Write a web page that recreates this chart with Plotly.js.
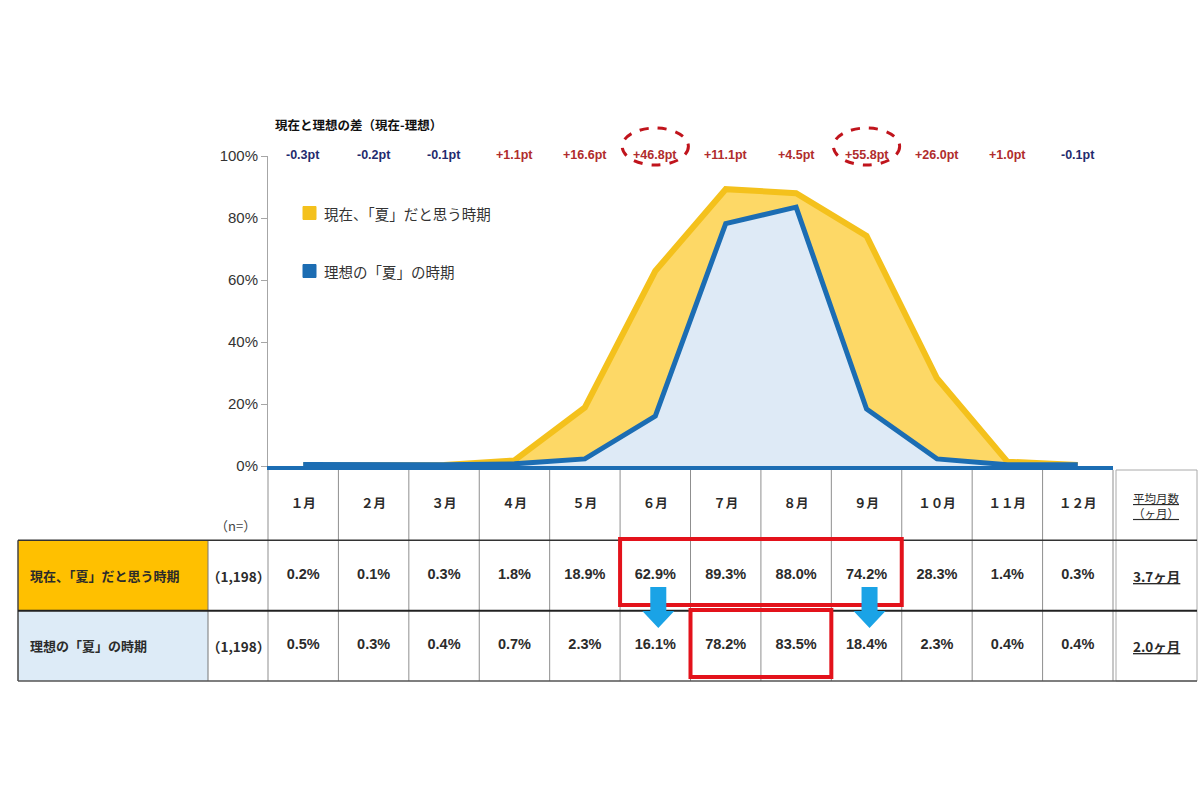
<!DOCTYPE html>
<html>
<head>
<meta charset="utf-8">
<script src="https://cdn.plot.ly/plotly-3.0.1.min.js"></script>
<style>
  html, body { margin: 0; padding: 0; background: #fff; }
  #chart { width: 1200px; height: 800px; }
</style>
</head>
<body>
<div id="chart"></div>
<script>
/* ── Data ── */
var MONTHS       = [1, 2, 3, 4, 5, 6, 7, 8, 9, 10, 11, 12];
var MONTH_LABELS = ['１月', '２月', '３月', '４月', '５月', '６月', '７月', '８月', '９月', '１０月', '１１月', '１２月'];
var CURRENT      = [0.2, 0.1, 0.3, 1.8, 18.9, 62.9, 89.3, 88.0, 74.2, 28.3, 1.4, 0.3];
var IDEAL        = [0.5, 0.3, 0.4, 0.7, 2.3, 16.1, 78.2, 83.5, 18.4, 2.3, 0.4, 0.4];
var GAP_PT       = [-0.3, -0.2, -0.1, 1.1, 16.6, 46.8, 11.1, 4.5, 55.8, 26.0, 1.0, -0.1];
var SERIES_NAMES = ['現在、「夏」だと思う時期', '理想の「夏」の時期'];
var N_COUNTS     = ['1,198', '1,198'];
var AVG_MONTHS   = [3.7, 2.0];
var Y_TICKS      = [0, 20, 40, 60, 80, 100];
var CIRCLED      = [6, 9];        // gap labels ringed in red
var BOX_CURRENT  = [6, 9];        // first / last month boxed in row 1
var BOX_IDEAL    = [7, 8];        // first / last month boxed in row 2
var ARROWS       = [6, 9];

/* ── Colours / fonts ── */
var C = {
  curLine: '#F4C11C', curFill: '#FDD866',
  idlLine: '#1C6DB3', idlFill: '#DEEAF6',
  rowCur:  '#FFC000', rowIdl:  '#DDEBF7',
  red:     '#E3121B', arrow:   '#1AA3E6',
  neg:     '#1F2B6E', pos:     '#B02C2C',
  text:    '#2b2b2b', grid:    '#8f8f8f',
};
var JP  = '"Noto Sans CJK JP", "Noto Sans", sans-serif';
var NUM = '"Liberation Sans", Arial, sans-serif';

/* ── Geometry (pixels of the 1200x800 page) ── */
var W = 1200, H = 800;
var PL = 268, PR = 1113;          // plot left / right
var P0 = 466, P100 = 156;         // y of 0% and 100%
var TT = 470, TB = 681;           // table top / bottom
var colW = (PR - PL) / 12;
var rowH = (TB - TT) / 3;

function px2x(px) { return 0.5 + (px - PL) / colW; }
function py2row(py) { return (py - TT) / rowH; }
function fx(px) { return px / W; }
function fy(py) { return 1 - py / H; }
function pct(v) { return v.toFixed(1) + '%'; }
function ul(s) { return '<span style="text-decoration:underline">' + s + '</span>'; }

/* ── Traces ── */
var traces = [
  {
    x: MONTHS, y: CURRENT, name: SERIES_NAMES[0],
    mode: 'lines', fill: 'tozeroy', fillcolor: C.curFill,
    line: { color: C.curLine, width: 6 },
    hovertemplate: '%{y:.1f}%<extra>' + SERIES_NAMES[0] + '</extra>',
  },
  {
    x: MONTHS, y: IDEAL, name: SERIES_NAMES[1],
    mode: 'lines', fill: 'tozeroy', fillcolor: C.idlFill,
    line: { color: C.idlLine, width: 5 },
    hovertemplate: '%{y:.1f}%<extra>' + SERIES_NAMES[1] + '</extra>',
  },
  /* table header + rows */
  {
    x: MONTHS, y: MONTHS.map(function () { return 0.5; }),
    xaxis: 'x2', yaxis: 'y2', mode: 'text', cliponaxis: false, hoverinfo: 'skip',
    text: MONTH_LABELS,
    textfont: { family: JP, size: 12.5, weight: 'bold', color: C.text },
  },
  {
    x: MONTHS, y: MONTHS.map(function () { return 1.5; }),
    xaxis: 'x2', yaxis: 'y2', mode: 'text', cliponaxis: false, hoverinfo: 'skip',
    text: CURRENT.map(pct),
    textfont: { family: NUM, size: 14.5, weight: 'bold', color: C.text },
  },
  {
    x: MONTHS, y: MONTHS.map(function () { return 2.5; }),
    xaxis: 'x2', yaxis: 'y2', mode: 'text', cliponaxis: false, hoverinfo: 'skip',
    text: IDEAL.map(pct),
    textfont: { family: NUM, size: 14.5, weight: 'bold', color: C.text },
  },
];

/* ── Shapes ── */
var shapes = [];
var LX0 = px2x(18), LX1 = px2x(208), RX0 = px2x(1116), RX1 = px2x(1197);

/* label cells */
[C.rowCur, C.rowIdl].forEach(function (col, i) {
  shapes.push({ type: 'rect', xref: 'x2', yref: 'y2', layer: 'below',
    x0: LX0, x1: LX1, y0: i + 1, y1: i + 2, fillcolor: col, line: { width: 0 } });
});

/* month column borders */
for (var i = 0; i <= 12; i++) {
  shapes.push({ type: 'line', xref: 'x2', yref: 'y2',
    x0: i + 0.5, x1: i + 0.5, y0: 0, y1: 3, line: { color: C.grid, width: 1 } });
}
shapes.push({ type: 'line', xref: 'x2', yref: 'y2', x0: LX1, x1: LX1, y0: 1, y1: 3,
  line: { color: '#777', width: 1 } });
shapes.push({ type: 'line', xref: 'x2', yref: 'y2', x0: LX0, x1: LX0, y0: 1, y1: 3,
  line: { color: '#444', width: 1.5 } });
shapes.push({ type: 'rect', xref: 'x2', yref: 'y2', x0: RX0, x1: RX1, y0: 0, y1: 3,
  line: { color: '#aaa', width: 1 } });

/* row borders */
[[1, '#333', 1.5], [2, '#222', 2], [3, '#555', 1.5]].forEach(function (r) {
  shapes.push({ type: 'line', xref: 'x2', yref: 'y2', x0: LX0, x1: RX1, y0: r[0], y1: r[0],
    line: { color: r[1], width: r[2] } });
});

/* red highlight boxes */
shapes.push({ type: 'rect', xref: 'x2', yref: 'y2',
  x0: BOX_CURRENT[0] - 0.5, x1: BOX_CURRENT[1] + 0.5, y0: py2row(539), y1: py2row(605),
  line: { color: C.red, width: 4 } });
shapes.push({ type: 'rect', xref: 'x2', yref: 'y2',
  x0: BOX_IDEAL[0] - 0.5, x1: BOX_IDEAL[1] + 0.5, y0: py2row(610), y1: py2row(677),
  line: { color: C.red, width: 4 } });

/* blue down arrows */
ARROWS.forEach(function (m) {
  var sw = 8 / colW, hw = 16 / colW, cx = m + 3 / colW;
  var y0 = py2row(587), yb = py2row(611), yt = py2row(628);
  shapes.push({ type: 'path', xref: 'x2', yref: 'y2', fillcolor: C.arrow, line: { width: 0 },
    path: 'M' + (cx - sw) + ',' + y0 + ' L' + (cx + sw) + ',' + y0 + ' L' + (cx + sw) + ',' + yb +
          ' L' + (cx + hw) + ',' + yb + ' L' + cx + ',' + yt + ' L' + (cx - hw) + ',' + yb +
          ' L' + (cx - sw) + ',' + yb + ' Z' });
});

/* dashed ellipses around biggest gaps */
CIRCLED.forEach(function (m) {
  shapes.push({ type: 'circle', xref: 'x', yref: 'paper',
    x0: m - 0.47, x1: m + 0.47, y0: fy(165), y1: fy(128),
    line: { color: '#C0141C', width: 3, dash: 'dash' } });
});

/* legend squares */
[[213, C.curLine], [271, C.idlLine]].forEach(function (l) {
  shapes.push({ type: 'rect', xref: 'paper', yref: 'paper',
    x0: fx(303), x1: fx(316), y0: fy(l[0] + 6.5), y1: fy(l[0] - 6.5),
    fillcolor: l[1], line: { color: l[1], width: 1 } });
});

/* ── Annotations ── */
var ann = [];
ann.push({ xref: 'paper', yref: 'paper', x: fx(273), y: fy(124), xanchor: 'left', yanchor: 'middle',
  showarrow: false, text: '<b>現在と理想の差（現在-理想）</b>',
  font: { family: JP, size: 12.5, color: '#111' } });

/* gap labels above the plot */
GAP_PT.forEach(function (v, i) {
  ann.push({ xref: 'x', yref: 'paper', x: MONTHS[i], y: fy(146), showarrow: false,
    text: '<b>' + (v > 0 ? '+' : '') + v.toFixed(1) + 'pt</b>',
    font: { family: NUM, size: 12.5, color: v < 0 ? C.neg : C.pos } });
});

[[213, SERIES_NAMES[0]], [271, SERIES_NAMES[1]]].forEach(function (l) {
  ann.push({ xref: 'paper', yref: 'paper', x: fx(322), y: fy(l[0]), xanchor: 'left', yanchor: 'middle',
    showarrow: false, text: l[1], font: { family: JP, size: 14.5, color: '#333' } });
});

ann.push({ xref: 'x2', yref: 'y2', x: px2x(235), y: py2row(525), showarrow: false,
  text: '（n=）', font: { family: JP, size: 13, color: '#444' } });

SERIES_NAMES.forEach(function (name, r) {
  ann.push({ xref: 'x2', yref: 'y2', x: px2x(28), y: r + 1.5, xanchor: 'left', showarrow: false,
    text: '<b>' + name + '</b>', font: { family: JP, size: 13, color: C.text } });
  ann.push({ xref: 'x2', yref: 'y2', x: px2x(238), y: r + 1.5, showarrow: false,
    text: '（' + N_COUNTS[r] + '）', font: { family: JP, size: 13.5, weight: 'bold', color: C.text } });
  ann.push({ xref: 'x2', yref: 'y2', x: px2x(1156), y: r + 1.5, showarrow: false,
    text: '<b>' + ul(AVG_MONTHS[r].toFixed(1) + 'ヶ月') + '</b>',
    font: { family: JP, size: 13.5, color: C.text } });
});

ann.push({ xref: 'x2', yref: 'y2', x: px2x(1156), y: 0.5, showarrow: false,
  text: ul('平均月数') + '<br>' + ul('（ヶ月）'),
  font: { family: JP, size: 11.5, color: C.text } });

/* ── Layout ── */
var layout = {
  width: W, height: H,
  margin: { l: 0, r: 0, t: 0, b: 0 },
  paper_bgcolor: '#fff', plot_bgcolor: 'rgba(0,0,0,0)',
  showlegend: false,
  font: { family: JP, color: C.text },
  xaxis: {
    domain: [fx(PL), fx(PR)], range: [0.5, 12.5],
    showticklabels: false, ticks: '', showgrid: false, zeroline: false,
    showline: true, linecolor: C.idlLine, linewidth: 4, fixedrange: true,
  },
  yaxis: {
    domain: [fy(P0), fy(P100)], range: [0, 100],
    tickmode: 'array', tickvals: Y_TICKS,
    ticktext: Y_TICKS.map(function (v) { return v + '%'; }),
    ticks: 'outside', ticklen: 6,
    tickcolor: '#a6a6a6', showline: true, linecolor: '#a6a6a6', linewidth: 1,
    showgrid: false, zeroline: false, fixedrange: true,
    tickfont: { family: NUM, size: 15, color: '#333' },
  },
  xaxis2: {
    domain: [0, 1], range: [px2x(0), px2x(W)], anchor: 'y2',
    visible: false, fixedrange: true,
  },
  yaxis2: {
    domain: [fy(700), fy(P0)], range: [py2row(700), py2row(P0)], anchor: 'x2',
    visible: false, fixedrange: true,
  },
  shapes: shapes,
  annotations: ann,
  hovermode: 'closest',
};

Plotly.newPlot('chart', traces, layout, { displayModeBar: false });
</script>
</body>
</html>
